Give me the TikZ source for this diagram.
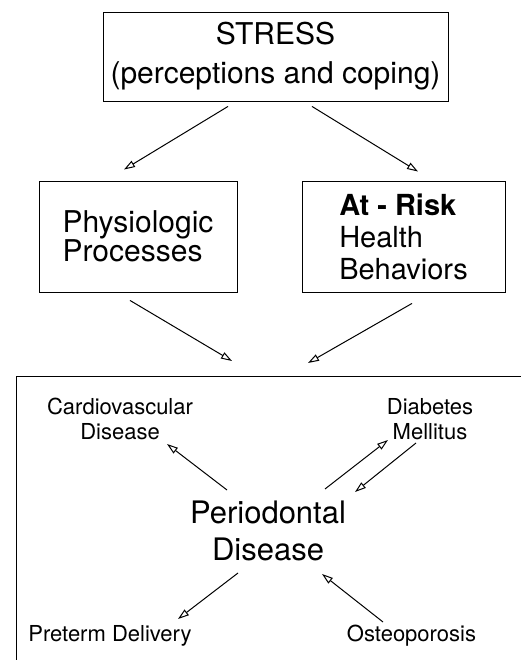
\documentclass[tikz,border=0pt]{standalone}
\usepackage{fontspec}
\setmainfont{TeX Gyre Heros}
\usetikzlibrary{arrows.meta}

\tikzset{
  box/.style={draw, line width=0.9pt, inner sep=0pt},
  outcome/.style={font=\fontsize{22}{25}\selectfont, align=center, inner sep=0pt},
  link/.style={->, line width=1pt},
}

\begin{document}
\begin{tikzpicture}[x=1pt, y=1pt, >={Triangle[open, length=11pt, width=7pt]}]
	\useasboundingbox (0,0) rectangle (521,660);
	% upper part
	\node[box, minimum width=345pt, minimum height=89pt, align=center, font={\fontsize{30}{39}\selectfont}] (stress) at (275.5,603.5) {STRESS\\(perceptions and coping)};
	\node[box, minimum width=198pt, minimum height=111pt, align=left, font={\fontsize{30}{29}\selectfont}] (phys) at (138,423.5) {Physiologic\\Processes};
	\node[box, minimum width=203pt, minimum height=111pt, align=left, font={\fontsize{29}{32}\selectfont}] (risk) at (403.5,423.5) {\textbf{At - Risk}\\Health\\Behaviors};
	\draw[link] ([xshift=-47.5pt, yshift=-5pt]stress.south) -- ([xshift=-14pt, yshift=11pt]phys.north);
	\draw[link] ([xshift=36.5pt, yshift=-5pt]stress.south) -- ([xshift=14.5pt, yshift=9pt]risk.north);
	% lower frame
	\draw[line width=0.9pt] (16,0) -- (16,284) -- (521,284);
	\coordinate (sys) at (268,284);
	\draw[link] ([xshift=-8pt, yshift=-8pt]phys.south) -- ([xshift=-36pt, yshift=15pt]sys);
	\draw[link] ([xshift=8.5pt, yshift=-11pt]risk.south) -- ([xshift=40pt, yshift=13pt]sys);
	% inside the frame
	\node[align=center, inner sep=0pt, font={\fontsize{31}{37}\selectfont}] (perio) at (268,129) {Periodontal\\Disease};
	\node[outcome] (cardio) at (120,241) {Cardiovascular\\Disease};
	\node[outcome] (diab) at (430,241) {Diabetes\\Mellitus};
	\node[outcome] (preterm) at (110,24) {Preterm Delivery};
	\node[outcome] (osteo) at (411.5,24) {Osteoporosis};
	\draw[link] ([xshift=-41pt, yshift=41pt]perio.center) -- ([xshift=47pt, yshift=-25pt]cardio.center);
	\draw[link] ([xshift=57pt, yshift=42pt]perio.center) -- ([xshift=-42pt, yshift=-21pt]diab.center);
	\draw[link] ([xshift=-14pt, yshift=-24pt]diab.center) -- ([xshift=87pt, yshift=39pt]perio.center);
	\draw[link] ([xshift=-30pt, yshift=-42pt]perio.center) -- ([xshift=68pt, yshift=17pt]preterm.center);
	\draw[link] ([xshift=-28.5pt, yshift=14pt]osteo.center) -- ([xshift=54pt, yshift=-43pt]perio.center);
\end{tikzpicture}
\end{document}
